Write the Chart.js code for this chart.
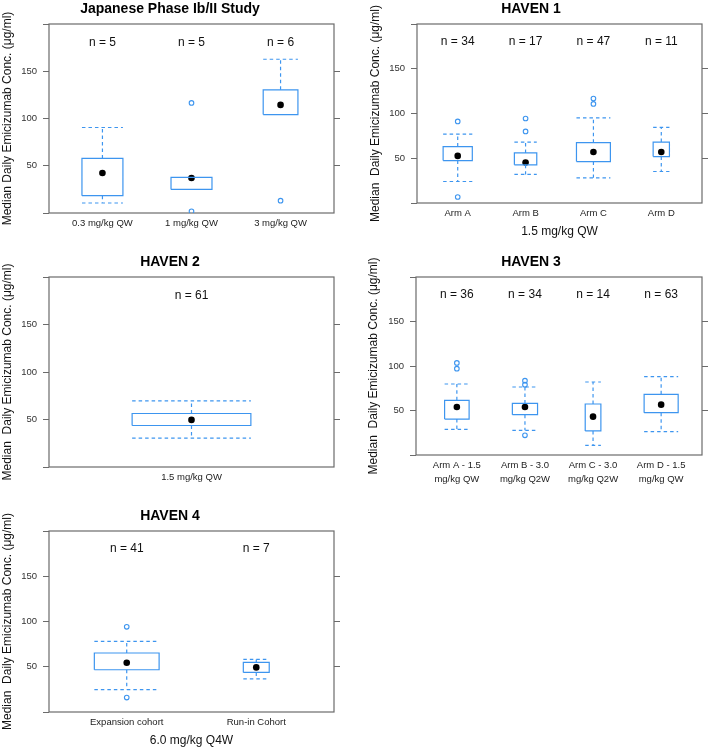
<!DOCTYPE html>
<html>
<head>
<meta charset="utf-8">
<script src="https://cdn.jsdelivr.net/npm/chart.js@4.4.0/dist/chart.umd.min.js"></script>
<style>
  html, body { margin: 0; padding: 0; background: #fff; }
  #wrap { position: relative; width: 708px; height: 749px; }
  #wrap canvas { position: absolute; }
</style>
</head>
<body>
<div id="wrap"></div>
<script>
// ---- data ----
const yTicks = [0, 50, 100, 150, 200];

// Japanese Phase Ib/II Study
const jpCategories = ['0.3 mg/kg QW', '1 mg/kg QW', '3 mg/kg QW'];
const jpN = [5, 5, 6];
const jpLow = [10.6, 25, 104.2];
const jpQ1 = [18.3, 25, 104.2];
const jpMedian = [42.3, 37, 114.4];
const jpQ3 = [57.7, 37.7, 130.3];
const jpHigh = [90.5, 37.7, 162.7];
const jpOutliers = [[], [116.5, 1.8], [13]];

// HAVEN 1
const h1Categories = ['Arm A', 'Arm B', 'Arm C', 'Arm D'];
const h1N = [34, 17, 47, 11];
const h1Low = [24, 31.9, 28.1, 35.2];
const h1Q1 = [47.4, 42.6, 46.3, 51.9];
const h1Median = [52.6, 45.2, 57, 57];
const h1Q3 = [63, 55.9, 67.4, 68.1];
const h1High = [77, 68.1, 95.2, 84.4];
const h1Outliers = [[91.1, 6.7], [94.4, 80], [116.7, 110.7], []];

// HAVEN 2
const h2Categories = ['1.5 mg/kg QW'];
const h2N = [61];
const h2Low = [30.3];
const h2Q1 = [43.7];
const h2Median = [49.6];
const h2Q3 = [56.3];
const h2High = [69.7];
const h2Outliers = [[]];

// HAVEN 3
const h3Categories = [['Arm A - 1.5', 'mg/kg QW'], ['Arm B - 3.0', 'mg/kg Q2W'], ['Arm C - 3.0', 'mg/kg Q2W'], ['Arm D - 1.5', 'mg/kg QW']];
const h3N = [36, 34, 14, 63];
const h3Low = [28.8, 27.7, 10.9, 26.2];
const h3Q1 = [40.4, 45.3, 27, 47.6];
const h3Median = [53.9, 53.9, 43.1, 56.6];
const h3Q3 = [61.4, 58, 57.3, 68.2];
const h3High = [79.8, 76.4, 82, 88];
const h3Outliers = [[103.4, 97], [83.5, 79, 22.1], [], []];

// HAVEN 4
const h4Categories = ['Expansion cohort', 'Run-in Cohort'];
const h4N = [41, 7];
const h4Low = [24.8, 36.7];
const h4Q1 = [46.7, 43.7];
const h4Median = [54.4, 49.3];
const h4Q3 = [65.2, 54.8];
const h4High = [78.1, 58.1];
const h4Outliers = [[94.1, 15.9], []];

// ---- look ----
const BLUE = '#3d95ef';
const FRAME = '#6b6b6b';
const N_LABEL_AT = 180;
const Y_TITLE = 'Median  Daily Emicizumab Conc. (\u03bcg/ml)';

Chart.defaults.font.family = "'Liberation Sans', Arial, Helvetica, sans-serif";
Chart.defaults.color = '#222';

// canvas box [left, top, w, h], plot area [L, T, R, B] in canvas px, box widths in category units
const panels = [
  { title: 'Japanese Phase Ib/II Study', yTitle: 'Median Daily Emicizumab Conc. (\u03bcg/ml)',
    cats: jpCategories, n: jpN, lo: jpLow, q1: jpQ1, med: jpMedian, q3: jpQ3, hi: jpHigh, out: jpOutliers,
    widths: [0.46, 0.46, 0.39], box: [0, 0, 354, 245], area: [49, 24, 334, 213], yPad: 0 },
  { title: 'HAVEN 1', yTitle: Y_TITLE, xTitle: '1.5 mg/kg QW', xPad: 5.8,
    cats: h1Categories, n: h1N, lo: h1Low, q1: h1Q1, med: h1Median, q3: h1Q3, hi: h1High, out: h1Outliers,
    widths: [0.43, 0.33, 0.5, 0.24], box: [354, 0, 354, 245], area: [63, 24, 348, 203], yPad: 14 },
  { title: 'HAVEN 2', yTitle: Y_TITLE,
    cats: h2Categories, n: h2N, lo: h2Low, q1: h2Q1, med: h2Median, q3: h2Q3, hi: h2High, out: h2Outliers,
    widths: [0.5], box: [0, 245, 354, 245], area: [49, 32, 334, 222], yPad: 0 },
  { title: 'HAVEN 3', yTitle: Y_TITLE,
    cats: h3Categories, n: h3N, lo: h3Low, q1: h3Q1, med: h3Median, q3: h3Q3, hi: h3High, out: h3Outliers,
    widths: [0.36, 0.37, 0.23, 0.5], box: [354, 245, 354, 245], area: [62, 32, 348, 210], yPad: 12 },
  { title: 'HAVEN 4', yTitle: Y_TITLE, xTitle: '6.0 mg/kg Q4W', xPad: 1,
    cats: h4Categories, n: h4N, lo: h4Low, q1: h4Q1, med: h4Median, q3: h4Q3, hi: h4High, out: h4Outliers,
    widths: [0.5, 0.2], box: [0, 490, 354, 259], area: [49, 41, 334, 222], yPad: 0 }
];

function boxPath(p) {
  const pts = [];
  p.cats.forEach((c, i) => {
    const x = i + 1, h = p.widths[i] / 2;
    pts.push({x: x - h, y: p.q1[i]}, {x: x + h, y: p.q1[i]}, {x: x + h, y: p.q3[i]},
             {x: x - h, y: p.q3[i]}, {x: x - h, y: p.q1[i]}, {x: x, y: null});
  });
  return pts;
}

function whiskerPath(p) {
  const pts = [];
  p.cats.forEach((c, i) => {
    const x = i + 1, h = p.widths[i] / 2;
    if (p.hi[i] > p.q3[i]) {
      pts.push({x, y: p.q3[i]}, {x, y: p.hi[i]}, {x, y: null},
               {x: x - h, y: p.hi[i]}, {x: x + h, y: p.hi[i]}, {x, y: null});
    }
    if (p.lo[i] < p.q1[i]) {
      pts.push({x, y: p.q1[i]}, {x, y: p.lo[i]}, {x, y: null},
               {x: x - h, y: p.lo[i]}, {x: x + h, y: p.lo[i]}, {x, y: null});
    }
  });
  return pts;
}

const framePlugin = {
  id: 'frame',
  beforeDatasetsDraw(chart) {
    const {ctx, chartArea: a} = chart;
    ctx.save();
    ctx.strokeStyle = FRAME;
    ctx.lineWidth = 1.2;
    ctx.strokeRect(a.left, a.top, a.right - a.left, a.bottom - a.top);
    ctx.restore();
  }
};

const nLabelPlugin = {
  id: 'nLabels',
  afterDatasetsDraw(chart, args, opts) {
    const {ctx} = chart;
    const xs = chart.scales.x, ys = chart.scales.y;
    ctx.save();
    ctx.font = "12px 'Liberation Sans', Arial, sans-serif";
    ctx.fillStyle = '#111';
    ctx.textAlign = 'center';
    ctx.textBaseline = 'middle';
    opts.counts.forEach((n, i) => {
      ctx.fillText('n = ' + n, xs.getPixelForValue(i + 1), ys.getPixelForValue(N_LABEL_AT));
    });
    ctx.restore();
  }
};

const wrap = document.getElementById('wrap');

panels.forEach(p => {
  const cv = document.createElement('canvas');
  cv.width = p.box[2];
  cv.height = p.box[3];
  cv.style.left = p.box[0] + 'px';
  cv.style.top = p.box[1] + 'px';
  wrap.appendChild(cv);
  const [L, T, R, B] = p.area;

  new Chart(cv, {
    type: 'scatter',
    data: {
      datasets: [
        { data: boxPath(p), showLine: true, spanGaps: false, borderColor: BLUE, borderWidth: 1.2, pointRadius: 0 },
        { data: whiskerPath(p), showLine: true, spanGaps: false, borderColor: BLUE, borderWidth: 1.2,
          borderDash: [3.5, 3], pointRadius: 0 },
        { data: p.out.flatMap((ys, i) => ys.map(y => ({x: i + 1, y}))), pointRadius: 2.3,
          backgroundColor: 'rgba(0,0,0,0)', borderColor: BLUE, borderWidth: 1.1 },
        { data: p.med.map((y, i) => ({x: i + 1, y})), pointRadius: 3.3,
          backgroundColor: '#000', borderColor: '#000', borderWidth: 0 }
      ]
    },
    options: {
      responsive: false,
      animation: false,
      events: [],
      layout: { padding: { left: 0, top: 0, right: p.box[2] - R - 6, bottom: 0 } },
      plugins: {
        legend: { display: false },
        tooltip: { enabled: false },
        title: { display: true, text: p.title, color: '#000',
                 font: { size: 14, weight: 'bold', lineHeight: 1 },
                 padding: { top: T - 22, bottom: 8 } },
        nLabels: { counts: p.n }
      },
      scales: {
        x: {
          type: 'linear', min: 0.4, max: p.cats.length + 0.6,
          afterBuildTicks: s => { s.ticks = p.cats.map((c, i) => ({ value: i + 1 })); },
          afterFit: s => { s.height = p.box[3] - B; },
          ticks: { callback: (v, i) => p.cats[i], font: { size: 9.5, lineHeight: 1.4 }, color: '#222',
                   padding: 4, autoSkip: false, maxRotation: 0 },
          grid: { display: false, drawTicks: false, tickLength: 0 },
          border: { display: false },
          title: { display: !!p.xTitle, text: p.xTitle || '', font: { size: 12 }, color: '#111',
                   padding: { top: 0, bottom: p.xPad || 0 } }
        },
        y: {
          position: 'left', min: 0, max: 200,
          afterBuildTicks: s => { s.ticks = yTicks.map(v => ({ value: v })); },
          afterFit: s => { s.width = L; },
          ticks: { callback: v => (v === 0 || v === 200 ? '' : v), font: { size: 9.5 }, color: '#333',
                   padding: 6, autoSkip: false },
          grid: { drawOnChartArea: false, drawTicks: true, tickLength: 6, color: FRAME },
          border: { display: false },
          title: { display: true, text: p.yTitle, font: { size: 12 }, color: '#111',
                   padding: { top: p.yPad, bottom: 0 } }
        },
        y2: {
          position: 'right', min: 0, max: 200,
          afterBuildTicks: s => { s.ticks = yTicks.filter(v => v > 0 && v < 200).map(v => ({ value: v })); },
          afterFit: s => { s.width = 6; },
          ticks: { display: false },
          grid: { drawOnChartArea: false, drawTicks: true, tickLength: 6, color: FRAME },
          border: { display: false }
        }
      }
    },
    plugins: [framePlugin, nLabelPlugin]
  });
});
</script>
</body>
</html>
